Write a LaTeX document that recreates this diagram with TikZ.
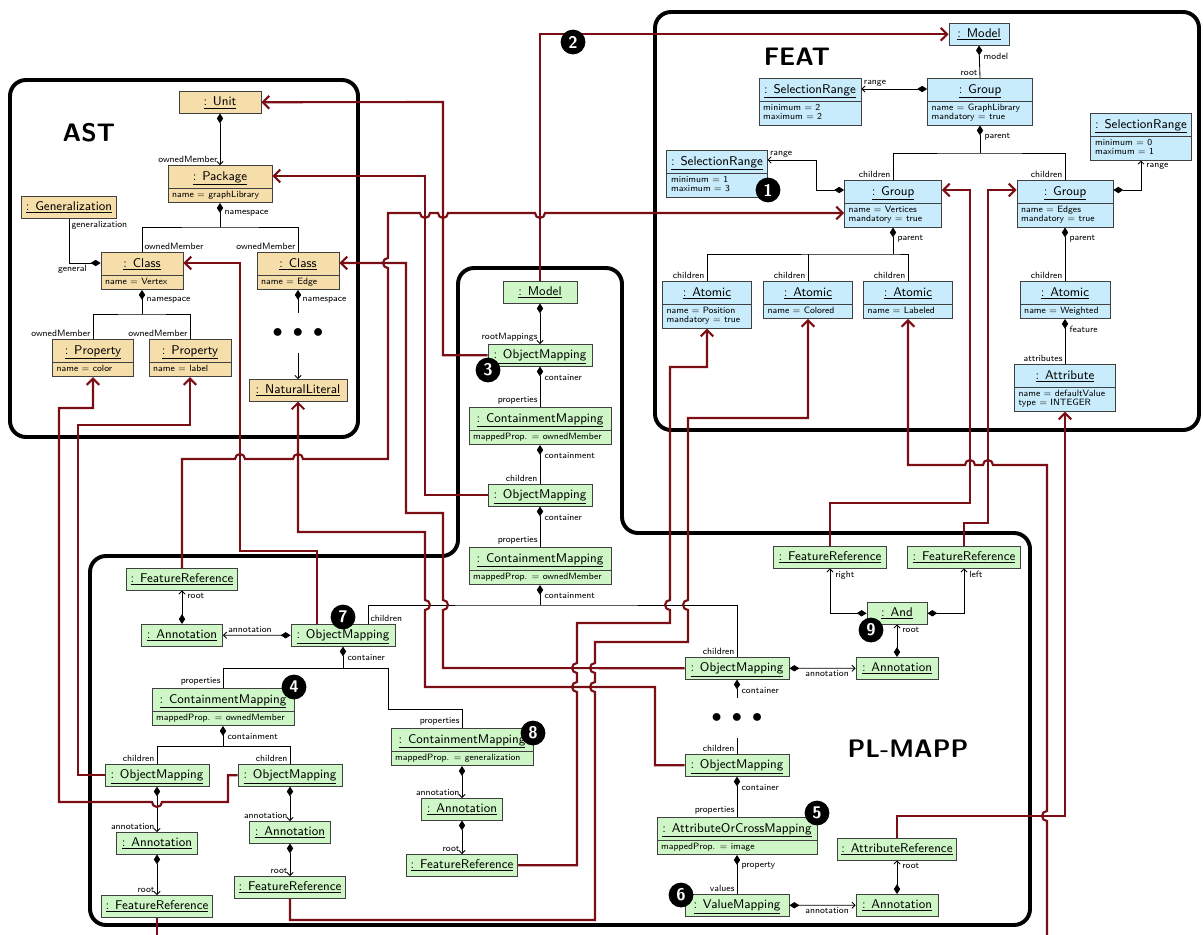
\documentclass[tikz,border=0pt]{standalone}
\usepackage{tikz}
\usetikzlibrary{arrows.meta}
\usetikzlibrary{shapes.multipart}

\definecolor{astfill}{RGB}{245,222,170}
\definecolor{featfill}{RGB}{200,236,252}
\definecolor{mapfill}{RGB}{206,246,198}
\definecolor{mapred}{RGB}{122,14,20}
\newcommand{\objname}[1]{\rule[-3.8pt]{0pt}{12.4pt}\underline{: #1}}
\newcommand{\attrs}[1]{{\fontsize{6.5}{6.8}\selectfont\begin{tabular}{@{}l@{}}#1\end{tabular}}}

\begin{document}
\begin{tikzpicture}[x=0.025cm,y=-0.025cm,font=\sffamily,
    obj/.style={draw=black!75,line width=0.6pt,anchor=north,inner xsep=3pt,inner ysep=1.5pt,
                font=\sffamily\fontsize{9}{11}\selectfont},
    split node/.style={rectangle split,rectangle split parts=2,rectangle split part align={center,left}},
    ast node/.style={obj,fill=astfill},
    feat node/.style={obj,fill=featfill},
    map node/.style={obj,fill=mapfill},
    boxw/.style={minimum width=#1*0.025cm},
    role/.style={font=\sffamily\fontsize{6.5}{7}\selectfont,inner sep=1.5pt},
    src/.style={role,anchor=north west,yshift=-3.5pt,xshift=1.5pt},
    tgt/.style={role,anchor=south east},
    link/.style={line width=0.6pt},
    comp/.style={link,{Diamond[length=7pt,width=4.5pt]}-},
    comp arrow/.style={link,{Diamond[length=7pt,width=4.5pt]}-{Straight Barb[length=2.2pt,width=4.5pt]}},
    map link/.style={draw=mapred,line width=1.5pt,-{Straight Barb[length=4.5pt,width=9pt]}},
    badge/.style={circle,fill=black,text=white,inner sep=0pt,minimum size=0.62cm,
                  font=\sffamily\bfseries\fontsize{12}{12}\selectfont},
    region/.style={line width=2.8pt,rounded corners=0.4cm},
    region label/.style={font=\sffamily\bfseries\fontsize{18}{20}\selectfont},
    dotnode/.style={inner sep=0pt,minimum height=1cm,font=\Large}]

\useasboundingbox (0,0) rectangle (1203,934);

\draw[region] (10,80) rectangle (358,437);
\draw[region] (655,12) rectangle (1199,430);
\draw[region] (500,925) -- (90,925) -- (90,556) -- (458,556) -- (458,268) -- (622,268)
    -- (622,533) -- (1030,533) -- (1030,925) -- cycle;
\node[region label] (astlbl) at (89,133) {AST};
\node[region label] (featlbl) at (797,57) {FEAT};
\node[region label] (mapplbl) at (908,749) {PL-MAPP};

\node[ast node,boxw=82] (unit) at (220,91) {\objname{Unit}};
\node[ast node,split node,boxw=104] (pkg) at (220,165) {\objname{Package}\nodepart{two}\attrs{name $=$ graphLibrary}};
\node[ast node,boxw=94] (gen) at (69,196) {\objname{Generalization}};
\node[ast node,split node,boxw=82] (clsV) at (142,252) {\objname{Class}\nodepart{two}\attrs{name $=$ Vertex}};
\node[ast node,split node,boxw=82] (clsE) at (298,252) {\objname{Class}\nodepart{two}\attrs{name $=$ Edge}};
\node[ast node,split node,boxw=81] (propC) at (93,339) {\objname{Property}\nodepart{two}\attrs{name $=$ color}};
\node[ast node,split node,boxw=82] (propL) at (190,339) {\objname{Property}\nodepart{two}\attrs{name $=$ label}};
\node[dotnode] (adots) at (298,333) {$\bullet\mkern5mu\bullet\mkern5mu\bullet$};
\node[ast node,boxw=98] (natlit) at (298,379) {\objname{NaturalLiteral}};

\node[feat node,boxw=60] (fmodel) at (979,23) {\objname{Model}};
\node[feat node,split node,boxw=105] (fgrp) at (980,78) {\objname{Group}\nodepart{two}\attrs{name $=$ GraphLibrary\\mandatory $=$ true}};
\node[feat node,split node,boxw=102] (sr22) at (810,78) {\objname{SelectionRange}\nodepart{two}\attrs{minimum $=$ 2\\maximum $=$ 2}};
\node[feat node,split node,boxw=100] (sr01) at (1141,113) {\objname{SelectionRange}\nodepart{two}\attrs{minimum $=$ 0\\maximum $=$ 1}};
\node[feat node,split node,boxw=100] (sr13) at (717,150) {\objname{SelectionRange}\nodepart{two}\attrs{minimum $=$ 1\\maximum $=$ 3}};
\node[feat node,split node,boxw=97] (grpV) at (893,180) {\objname{Group}\nodepart{two}\attrs{name $=$ Vertices\\mandatory $=$ true}};
\node[feat node,split node,boxw=96] (grpE) at (1065,180) {\objname{Group}\nodepart{two}\attrs{name $=$ Edges\\mandatory $=$ true}};
\node[feat node,split node,boxw=89] (atPos) at (707,281) {\objname{Atomic}\nodepart{two}\attrs{name $=$ Position\\mandatory $=$ true}};
\node[feat node,split node,boxw=89] (atCol) at (808,281) {\objname{Atomic}\nodepart{two}\attrs{name $=$ Colored}};
\node[feat node,split node,boxw=89] (atLab) at (908,281) {\objname{Atomic}\nodepart{two}\attrs{name $=$ Labeled}};
\node[feat node,split node,boxw=90] (atW) at (1065,281) {\objname{Atomic}\nodepart{two}\attrs{name $=$ Weighted}};
\node[feat node,split node,boxw=101] (attr) at (1065,364) {\objname{Attribute}\nodepart{two}\attrs{name $=$ defaultValue\\type $=$ INTEGER}};

\node[map node,boxw=74] (mmodel) at (540,281) {\objname{Model}};
\node[map node,boxw=104] (om3) at (540,344) {\objname{ObjectMapping}};
\node[map node,split node,boxw=142] (cm1) at (540,407) {\objname{ContainmentMapping}\nodepart{two}\attrs{mappedProp. $=$ ownedMember}};
\node[map node,boxw=104] (omM) at (540,484) {\objname{ObjectMapping}};
\node[map node,split node,boxw=142] (cm2) at (540,547) {\objname{ContainmentMapping}\nodepart{two}\attrs{mappedProp. $=$ ownedMember}};

\node[map node,boxw=111] (frTL) at (182,568) {\objname{FeatureReference}};
\node[map node,boxw=81] (ann7) at (182,624) {\objname{Annotation}};
\node[map node,boxw=104] (om7) at (343,624) {\objname{ObjectMapping}};
\node[map node,split node,boxw=142] (cm4) at (223,688) {\objname{ContainmentMapping}\nodepart{two}\attrs{mappedProp. $=$ ownedMember}};
\node[map node,boxw=104] (omL) at (157,764) {\objname{ObjectMapping}};
\node[map node,boxw=104] (omR) at (290,764) {\objname{ObjectMapping}};
\node[map node,boxw=81] (annL) at (157,832) {\objname{Annotation}};
\node[map node,boxw=81] (annR) at (290,821) {\objname{Annotation}};
\node[map node,boxw=111] (frL) at (157,895) {\objname{FeatureReference}};
\node[map node,boxw=111] (frR) at (290,876) {\objname{FeatureReference}};
\node[map node,split node,boxw=142] (cm8) at (462,728) {\objname{ContainmentMapping}\nodepart{two}\attrs{mappedProp. $=$ generalization}};
\node[map node,boxw=81] (ann8) at (462,798) {\objname{Annotation}};
\node[map node,boxw=111] (fr8) at (462,854) {\objname{FeatureReference}};
\node[map node,boxw=104] (omA) at (737,657) {\objname{ObjectMapping}};
\node[dotnode] (pdots) at (737,718) {$\bullet\mkern5mu\bullet\mkern5mu\bullet$};
\node[map node,boxw=104] (omB) at (737,754) {\objname{ObjectMapping}};
\node[map node,split node,boxw=160] (acm) at (737,817) {\objname{AttributeOrCrossMapping}\nodepart{two}\attrs{mappedProp. $=$ image}};
\node[map node,boxw=104] (vm) at (737,894) {\objname{ValueMapping}};
\node[map node,boxw=113] (frRt) at (830,546) {\objname{FeatureReference}};
\node[map node,boxw=113] (frLt) at (964,546) {\objname{FeatureReference}};
\node[map node,boxw=60] (andN) at (897,602) {\objname{And}};
\node[map node,boxw=82] (ann9) at (897,657) {\objname{Annotation}};
\node[map node,boxw=119] (attrRef) at (897,838) {\objname{AttributeReference}};
\node[map node,boxw=82] (annV) at (897,894) {\objname{Annotation}};

\coordinate (jpkg) at (220,227);
\coordinate (jclsV) at (142,314);
\coordinate (jfgrp) at (980,153);
\coordinate (jgrpV) at (893,254);
\coordinate (jcm2) at (540,605);
\coordinate (jom7) at (343,668);
\coordinate (jcm4) at (223,746);
\coordinate (exitL) at (157,940);
\coordinate (exitR) at (1047,940);

\draw[comp arrow] (unit.south) -- (pkg.north) node[tgt] {ownedMember};
\draw[comp] (pkg.south) node[src] {namespace} -- (jpkg);
\draw[link] (clsV.north) node[role,anchor=south west] {ownedMember} |- (jpkg) -| (clsE.north) node[tgt] {ownedMember};
\draw[comp] (clsV.west |- 0,263) node[role,anchor=north east,xshift=-8pt] {general} -| (gen.south) node[role,anchor=north west] {generalization};
\draw[comp] (clsV.south) node[src] {namespace} -- (jclsV);
\draw[link] (propC.north) node[tgt] {ownedMember} |- (jclsV) -| (propL.north) node[tgt] {ownedMember};
\draw[comp] (clsE.south) node[src] {namespace} -- (adots.north);
\draw[link,-{Straight Barb[length=2.2pt,width=4.5pt]}] (adots.south) -- (natlit.north);

\draw[comp] (fmodel.south) node[src] {model} -- (fgrp.north) node[tgt] {root};
\draw[comp arrow] (fgrp.west |- 0,89) -- (sr22.east |- 0,89) node[role,anchor=south west] {range};
\draw[comp] (fgrp.south) node[src] {parent} -- (jfgrp);
\draw[link] (grpV.north) node[tgt] {children} |- (jfgrp) -| (grpE.north) node[tgt] {children};
\draw[comp arrow] (grpV.west |- 0,190) -| (816,160) -- (sr13.east |- 0,160) node[role,anchor=south west] {range};
\draw[comp arrow] (grpE.east |- 0,190) -| (sr01.south) node[role,anchor=north west,xshift=2pt] {range};
\draw[comp] (grpV.south) node[src] {parent} -- (jgrpV);
\draw[link] (atPos.north) node[tgt] {children} |- (jgrpV) -| (atLab.north) node[tgt] {children};
\draw[link] (atCol.north) node[tgt] {children} -- (atCol.north |- jgrpV);
\draw[comp] (grpE.south) node[src] {parent} -- (atW.north) node[tgt] {children};
\draw[comp] (atW.south) node[src] {feature} -- (attr.north) node[tgt] {attributes};

\draw[comp arrow] (mmodel.south) -- (om3.north) node[tgt] {rootMappings};
\draw[comp] (om3.south) node[src] {container} -- (cm1.north) node[tgt] {properties};
\draw[comp] (cm1.south) node[src] {containment} -- (omM.north) node[tgt] {children};
\draw[comp] (omM.south) node[src] {container} -- (cm2.north) node[tgt] {properties};
\draw[comp] (cm2.south) node[src] {containment} -- (jcm2);
\draw[link] (om7.north -| 368,0) node[role,anchor=south west] {children} |- (jcm2) -| (omA.north) node[tgt] {children};

\draw[comp arrow] (ann7.north) -- (frTL.south) node[role,anchor=north west,xshift=2pt] {root};
\draw[comp arrow] (om7.west) -- (ann7.east) node[role,anchor=south west,xshift=2pt] {annotation};
\draw[comp] (om7.south) node[src] {container} -- (jom7);
\draw[link] (cm4.north) node[tgt] {properties} |- (jom7) -| (388,709) -| (cm8.north) node[tgt] {properties};
\draw[comp] (cm4.south) node[src] {containment} -- (jcm4);
\draw[link] (omL.north) node[tgt] {children} |- (jcm4) -| (omR.north) node[tgt] {children};
\draw[comp arrow] (omL.south) -- (annL.north) node[tgt] {annotation};
\draw[comp arrow] (annL.south) -- (frL.north) node[tgt] {root};
\draw[comp arrow] (omR.south) -- (annR.north) node[tgt] {annotation};
\draw[comp arrow] (annR.south) -- (frR.north) node[tgt] {root};
\draw[comp arrow] (cm8.south) -- (ann8.north) node[tgt] {annotation};
\draw[comp arrow] (ann8.south) -- (fr8.north) node[tgt] {root};
\draw[comp] (omA.south) node[src] {container} -- (pdots.north);
\draw[link] (pdots.south) -- (omB.north) node[tgt] {children};
\draw[comp] (omB.south) node[src] {container} -- (acm.north) node[tgt] {properties};
\draw[comp] (acm.south) node[src] {property} -- (vm.north) node[tgt] {values};
\draw[comp arrow] (omA.east) -- (ann9.west) node[role,anchor=north east,xshift=-3pt] {annotation};
\draw[comp arrow] (ann9.north) -- (andN.south) node[role,anchor=north west,xshift=2pt] {root};
\draw[comp arrow] (andN.west) -| (frRt.south) node[role,anchor=north west,xshift=2pt] {right};
\draw[comp arrow] (andN.east) -| (frLt.south) node[role,anchor=north west,xshift=2pt] {left};
\draw[comp arrow] (vm.east) -- (annV.west) node[role,anchor=north east,xshift=-3pt] {annotation};
\draw[comp arrow] (annV.north) -- (attrRef.south) node[role,anchor=north west,xshift=2pt] {root};

\draw[map link] (mmodel.north) |- (fmodel.west);
\draw[map link] (om3.west) -| (443,102) -- (unit.east);
\draw[map link] (omM.west) -| (425,176) -- (pkg.east |- 0,176);
\draw[map link] (frTL.north) -- (182,459) -- (235,459) arc[start angle=180,end angle=0,radius=0.125cm]
    -- (293,459) arc[start angle=180,end angle=0,radius=0.125cm] -- (388,459)
    -- (388,268) arc[start angle=270,end angle=90,radius=0.125cm] -- (388,213)
    -- (420,213) arc[start angle=180,end angle=360,radius=0.125cm]
    -- (438,213) arc[start angle=180,end angle=360,radius=0.125cm]
    -- (535,213) arc[start angle=180,end angle=360,radius=0.125cm] -- (grpV.west |- 0,213);
\draw[map link] (omA.west) -- (443,668) -- (443,610) arc[start angle=-90,end angle=90,radius=0.125cm]
    -- (443,513) -- (406,513) -- (406,263) -- (clsE.east |- 0,263);
\draw[map link] (omB.west) -| (655,687) -- (425,687) -- (425,610) arc[start angle=-90,end angle=90,radius=0.125cm]
    -- (425,532) -| (natlit.south);
\draw[map link] (om7.north -| 317,0) |- (240,551) |- (clsV.east |- 0,263);
\draw[map link] (omL.west) -| (78,425) -| (propL.south);
\draw[map link] (omR.west) -| (228,802) -- (162,802) arc[start angle=0,end angle=-180,radius=0.125cm]
    -- (59,802) |- (propC.south |- 0,408) -- (propC.south);
\draw[map link] (fr8.east) -| (577,692) arc[start angle=270,end angle=90,radius=0.125cm]
    -- (577,673) arc[start angle=270,end angle=90,radius=0.125cm] -- (577,623) -- (670,623)
    -- (670,610) arc[start angle=270,end angle=90,radius=0.125cm] -- (670,367) -| (atPos.south);
\draw[map link] (frR.south) |- (595,920) -- (595,692) arc[start angle=270,end angle=90,radius=0.125cm]
    -- (595,673) arc[start angle=270,end angle=90,radius=0.125cm] -- (595,642) -- (688,642)
    -- (688,610) arc[start angle=270,end angle=90,radius=0.125cm] -- (688,418) -| (atCol.south);
\draw[map link] (frRt.north) |- (970,503) |- (grpV.east |- 0,190);
\draw[map link] (frLt.north) |- (988,523) |- (grpE.west |- 0,190);
\draw[map link] (exitR) -- (1047,821) arc[start angle=270,end angle=90,radius=0.125cm] -- (1047,465)
    -- (993,465) arc[start angle=0,end angle=180,radius=0.125cm]
    -- (975,465) arc[start angle=0,end angle=180,radius=0.125cm] -- (908,465) -- (atLab.south);
\draw[map link] (attrRef.north) |- (1065,816) -- (attr.south);
\draw[map link,-] (frL.south) -- (exitL);

\node[badge] (b1) at (768,190) {1};
\node[badge] (b2) at (573,42) {2};
\node[badge] (b3) at (488,370) {3};
\node[badge] (b4) at (294,687) {4};
\node[badge] (b5) at (817,813) {5};
\node[badge] (b6) at (681,895) {6};
\node[badge] (b7) at (343,617) {7};
\node[badge] (b8) at (533,733) {8};
\node[badge] (b9) at (871,630) {9};
\end{tikzpicture}
\end{document}
